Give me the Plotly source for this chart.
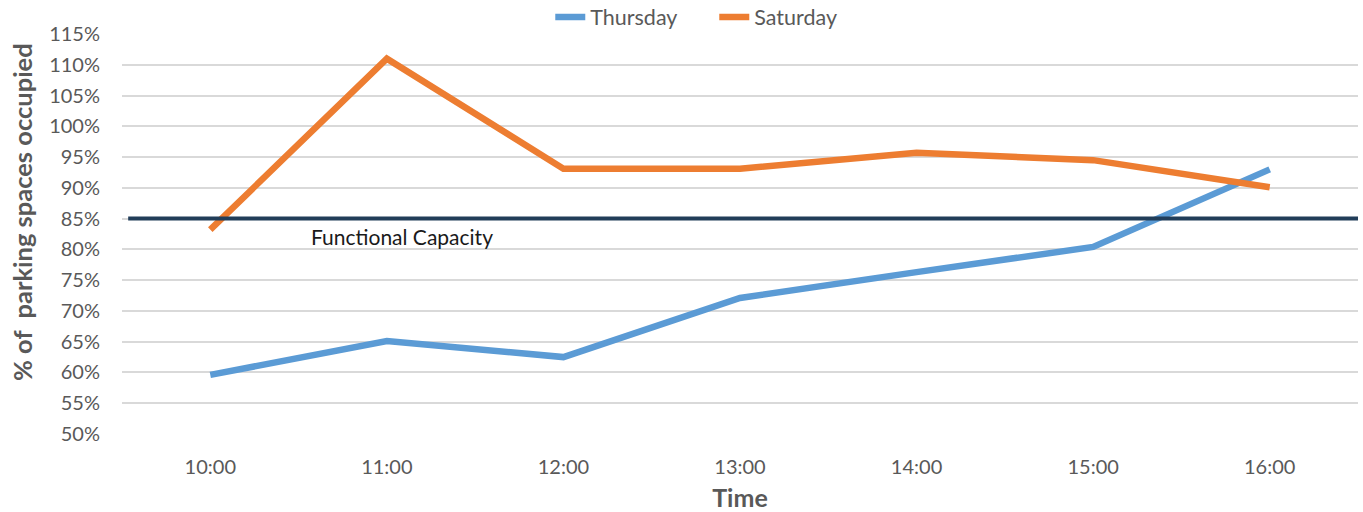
import plotly.graph_objects as go

times = ["10:00", "11:00", "12:00", "13:00", "14:00", "15:00", "16:00"]
thursday = [59.6, 65.1, 62.5, 72.1, 76.3, 80.4, 93.0]
saturday = [83.2, 111.0, 93.1, 93.1, 95.7, 94.5, 90.1]
functional_capacity = 85
y_ticks = list(range(50, 116, 5))

font_family = "Lato, 'Open Sans', sans-serif"
gray = "#595959"

fig = go.Figure()
fig.add_trace(go.Scatter(x=times, y=thursday, mode="lines", name="Thursday",
                         line=dict(color="#5B9BD5", width=6.5)))
fig.add_trace(go.Scatter(x=times, y=saturday, mode="lines", name="Saturday",
                         line=dict(color="#ED7D31", width=6.5)))

fig.add_shape(type="line", xref="paper", yref="y", x0=0.005, x1=1,
              y0=functional_capacity, y1=functional_capacity,
              line=dict(color="#213D59", width=4), layer="above")
fig.add_annotation(xref="paper", yref="y", x=0.151, y=functional_capacity,
                   text="Functional Capacity", showarrow=False,
                   xanchor="left", yanchor="top", yshift=-3,
                   font=dict(family=font_family, size=21, color="#1a1a1a"))
# y-axis title (placed as rotated text, slightly above plot centre as in reference)
fig.add_annotation(xref="paper", yref="paper", x=-0.0809, y=0.555,
                   text="<b>% of  parking spaces occupied</b>", textangle=-90,
                   showarrow=False, xanchor="center", yanchor="middle",
                   font=dict(family=font_family, size=25.5, color=gray))

fig.update_layout(
    width=1363, height=512,
    margin=dict(l=122, r=5, t=34, b=78, autoexpand=False),
    paper_bgcolor="white", plot_bgcolor="white",
    font=dict(family=font_family, color=gray, size=20),
    legend=dict(orientation="h", x=0.3465, xanchor="left",
                yref="container", y=1 - 17 / 512, yanchor="middle",
                entrywidth=119, entrywidthmode="pixels",
                font=dict(size=21.5, color=gray), traceorder="normal"),
    xaxis=dict(type="category", range=[-0.5, 6.5], showgrid=False,
               showline=False, ticks="", tickfont=dict(size=20, color=gray),
               ticklabelstandoff=19,
               title=dict(text="<b>Time</b>", font=dict(size=25, color=gray),
                          standoff=16)),
    yaxis=dict(range=[50, 115], tickvals=y_ticks,
               ticktext=[f"{v}%" for v in y_ticks],
               showgrid=True, gridcolor="#D9D9D9", gridwidth=1.5,
               zeroline=False, showline=False, ticks="",
               tickfont=dict(size=20, color=gray), ticklabelstandoff=21),
)

fig.write_html("out.html", config={"displayModeBar": False},
               post_script="document.body.style.margin='0';")
